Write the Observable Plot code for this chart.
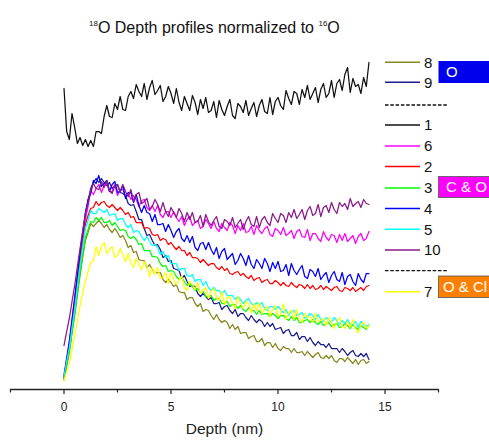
<!DOCTYPE html>
<html>
<head>
<meta charset="utf-8">
<script src="https://cdn.jsdelivr.net/npm/d3@7"></script>
<script src="https://cdn.jsdelivr.net/npm/@observablehq/plot@0.6"></script>
<style>
  html, body { margin: 0; padding: 0; background: #fff; }
  #wrap { position: relative; width: 489px; height: 442px; font-family: "Liberation Sans", Arial, sans-serif; }
  #title { position: absolute; left: 89px; top: 19.5px; font-size: 16px; line-height: 16px; color: #111; white-space: nowrap; }
  #title .s { font-size: 8px; position: relative; top: -7px; }
  #legend { position: absolute; left: 0; top: 0; }
</style>
</head>
<body>
<div id="wrap">
  <div id="chart"></div>
  <div id="title"><span class="s">18</span>O Depth profiles normalized to <span class="s">16</span>O</div>
</div>
<script>
// Depth (nm)
const depth = [0,0.125,0.25,0.375,0.5,0.625,0.75,0.875,1,1.125,
1.25,1.375,1.5,1.625,1.75,1.875,2,2.125,2.25,2.375,
2.5,2.625,2.75,2.875,3,3.125,3.25,3.375,3.5,3.625,
3.75,3.875,4,4.125,4.25,4.375,4.5,4.625,4.75,4.875,
5,5.125,5.25,5.375,5.5,5.625,5.75,5.875,6,6.125,
6.25,6.375,6.5,6.625,6.75,6.875,7,7.125,7.25,7.375,
7.5,7.625,7.75,7.875,8,8.125,8.25,8.375,8.5,8.625,
8.75,8.875,9,9.125,9.25,9.375,9.5,9.625,9.75,9.875,
10,10.125,10.25,10.375,10.5,10.625,10.75,10.875,11,11.125,
11.25,11.375,11.5,11.625,11.75,11.875,12,12.125,12.25,12.375,
12.5,12.625,12.75,12.875,13,13.125,13.25,13.375,13.5,13.625,
13.75,13.875,14,14.125,14.25];

// 18O/16O signal (a.u.), one list per sample
const s1 = [301,258,250,276,262,246,252,244,250,243,
249,243,258,258,256,273,284,273,272,286,
280,293,280,279,293,298,291,305,298,293,
306,290,302,309,295,299,304,288,293,303,
296,286,301,287,279,293,286,279,294,287,
275,290,281,292,277,279,288,272,289,280,
274,283,290,274,271,286,283,277,289,274,
281,287,273,284,290,278,276,292,275,288,
292,284,280,299,291,285,298,296,285,300,
292,304,290,296,302,287,300,306,292,296,
309,292,306,310,299,315,322,297,311,303,
305,296,312,303,327];

const s9 = [11,27,44,66,89,111,134,154,174,189,
201,207,211,207,211,207,204,207,201,204,
205,197,196,194,186,184,185,178,170,170,
161,154,155,149,144,145,140,132,134,128,
129,121,120,119,111,114,108,103,104,103,
96,93,96,93,90,92,86,86,87,80,
83,84,79,76,80,73,76,76,72,69,
74,70,67,70,68,63,67,63,66,60,
61,62,56,59,60,54,54,57,50,53,
53,48,52,47,44,48,45,45,42,46,
41,41,41,37,41,38,34,37,39,34,
33,36,33,36,30];

const s8 = [9,23,37,56,74,94,114,132,149,157,
166,163,166,169,166,162,165,160,157,161,
157,152,154,149,142,144,137,138,130,129,
129,122,125,120,116,117,117,110,107,110,
107,103,105,98,97,97,90,92,92,86,
83,86,78,80,79,74,70,75,70,67,
69,67,61,65,60,63,56,57,57,51,
53,54,48,48,51,44,47,47,42,46,
41,39,43,41,41,37,41,37,37,38,
34,38,35,32,35,37,32,31,34,31,
34,29,27,31,31,28,32,29,26,30,
25,29,30,26,28];

const s3 = [11,25,39,58,77,97,117,135,152,160,
168,167,172,169,172,167,167,169,164,167,
163,159,160,159,153,151,153,150,145,146,
139,139,139,133,133,132,126,123,124,118,
119,118,113,110,112,108,104,106,103,99,
101,97,98,93,93,94,89,91,91,86,
86,88,83,85,85,81,84,80,78,82,
79,79,75,79,75,76,76,73,76,74,
71,74,74,71,69,73,69,72,67,67,
69,70,67,70,67,65,68,64,66,67,
63,65,66,62,63,66,64,61,65,62,
60,64,62,60,64];

const s5 = [13,28,42,62,81,103,124,143,161,169,
179,176,176,181,179,177,180,174,175,176,
169,171,171,165,162,165,157,159,158,153,
149,153,148,144,145,142,135,138,132,134,
126,126,126,119,121,121,114,113,115,108,
110,110,104,108,102,99,102,99,99,95,
99,94,94,94,90,93,90,86,89,91,
86,84,87,84,87,81,79,83,83,80,
83,80,77,80,74,78,79,74,75,77,
71,73,76,74,70,75,70,68,72,70,
67,72,69,65,69,66,70,65,65,68,
62,68,65,63,65];

const s2 = [12,28,44,64,84,106,127,146,165,174,
181,182,188,184,187,188,184,182,185,182,
179,182,179,175,177,172,173,167,167,167,
161,162,161,155,154,155,149,151,150,145,
147,143,140,143,139,139,134,137,132,132,
131,127,130,127,124,126,126,122,120,123,
119,121,116,115,117,118,114,116,113,111,
114,109,111,112,107,109,110,106,106,109,
107,104,107,104,103,107,104,102,105,104,
101,105,101,104,100,101,104,100,103,101,
99,102,103,99,98,102,101,99,102,98,
100,102,99,103,104];

const s4 = [13,30,47,69,91,114,137,157,177,190,
196,209,206,214,203,206,209,198,205,208,
197,198,204,191,197,197,187,195,184,177,
184,177,176,168,175,165,165,166,158,165,
159,152,158,161,151,148,154,147,153,142,
139,146,147,140,147,140,135,142,131,138,
141,130,133,136,125,129,136,131,124,134,
125,121,130,126,121,131,126,118,127,121,
128,118,119,125,114,126,119,115,120,124,
113,111,120,118,113,121,110,114,117,107,
114,118,110,108,117,105,113,115,108,104,
116,110,107,116,116];

const s6 = [15,32,49,71,92,113,134,153,171,183,
199,195,201,205,197,204,206,198,198,205,
194,200,200,193,196,190,194,190,183,189,
190,182,179,184,178,184,175,172,178,178,
172,178,172,168,173,164,170,173,164,167,
169,161,163,170,166,161,168,161,158,166,
162,159,167,164,156,164,159,166,157,158,
163,155,164,159,156,161,163,155,153,161,
159,155,162,154,156,159,151,158,160,153,
152,160,149,156,156,151,148,158,152,149,
155,154,147,155,149,156,148,151,154,146,
153,156,149,151,158];

const s10 = [44,58,71,88,104,123,141,159,176,187,
199,206,201,200,208,202,209,199,196,204,
205,198,205,198,193,200,188,195,197,186,
188,191,180,183,190,185,178,187,178,173,
182,177,172,181,176,168,177,170,177,167,
168,174,163,175,168,164,169,173,163,161,
170,168,164,172,162,166,170,160,168,173,
165,163,173,162,170,173,167,164,176,171,
167,176,174,167,177,172,180,171,175,180,
170,179,183,174,176,185,173,182,184,177,
187,180,176,187,183,186,180,191,183,186,
188,182,190,186,185];

const s7 = [9,18,27,40,54,69,84,97,109,118,
127,129,143,134,143,147,136,140,143,132,
134,141,135,128,136,127,122,131,125,120,
128,123,113,122,115,122,111,112,117,106,
117,110,105,110,113,102,99,108,105,100,
107,96,99,102,91,98,101,92,89,98,
85,92,93,86,81,93,86,81,88,86,
77,86,79,87,76,80,83,73,80,84,
73,75,86,70,77,79,70,80,71,67,
76,72,73,67,76,68,69,71,64,72,
67,61,68,72,63,61,68,62,70,60,
57,65,67,61,64];

const sampleNames  = ["8", "9", "1", "6", "2", "3", "4", "5", "10", "7"];
const sampleColors = ["#86861c", "#1c1c8a", "#111111", "#ff00ff", "#ff0000", "#00ff00", "#0000ff", "#00ffff", "#8a1a8a", "#ffff00"];
const sampleValues = [s8, s9, s1, s6, s2, s3, s4, s5, s10, s7];

// Legend layout order and group labels
const legendOrder = ["8", "9", "--", "1", "6", "2", "3", "4", "5", "10", "--", "7"];
const groupLabels = ["O", "C & O", "O & Cl"];
const groupColors = ["#0000ee", "#ff00ff", "#ff8000"];

const majorTicks = [0, 5, 10, 15];
const minorTicks = [-2.5, 2.5, 7.5, 12.5, 17.5];

const rows = sampleNames.flatMap((name, k) =>
  depth.map((d, i) => ({ depth: d, value: sampleValues[k][i], sample: name }))
).filter(r => r.value != null);

const plot = Plot.plot({
  width: 489,
  height: 442,
  marginLeft: 10,
  marginRight: 51,
  marginTop: 40,
  marginBottom: 53,
  style: { fontFamily: "Liberation Sans, Arial, sans-serif", fontSize: "12px", color: "#222", background: "transparent" },
  x: { domain: [-2.5, 17.5] },
  y: { domain: [0, 349], axis: null },
  color: { domain: sampleNames, range: sampleColors },
  marks: [
    Plot.line(rows, { x: "depth", y: "value", z: "sample", stroke: "sample", strokeWidth: 1.25 }),
    Plot.ruleY([0], { stroke: "#222", strokeWidth: 1.4 }),
    Plot.axisX({ ticks: majorTicks, tickSize: 5, tickPadding: 8, label: null, stroke: "#222", strokeWidth: 1.2 }),
    Plot.axisX({ ticks: minorTicks, tickSize: 3.5, tickFormat: () => "", label: null, stroke: "#222", strokeWidth: 1.2 }),
    Plot.text(["Depth (nm)"], { frameAnchor: "bottom", dy: 44, fontSize: 15.5, fill: "#222" })
  ]
});
document.getElementById("chart").appendChild(plot);

// Legend (overlay)
const rowY = [62.3, 82.3, 105, 125, 146, 166.5, 188, 208.5, 229.3, 250, 270.7, 291.7];
const svg = d3.select("#wrap").append("svg")
  .attr("id", "legend").attr("width", 489).attr("height", 442)
  .style("font-family", "Liberation Sans, Arial, sans-serif");

legendOrder.forEach((key, i) => {
  const y = rowY[i];
  if (key === "--") {
    svg.append("line").attr("x1", 385).attr("x2", 448).attr("y1", y).attr("y2", y)
      .attr("stroke", "#111").attr("stroke-width", 1.3).attr("stroke-dasharray", "3.5,1.8");
  } else {
    const c = sampleColors[sampleNames.indexOf(key)];
    svg.append("line").attr("x1", 385).attr("x2", 420).attr("y1", y).attr("y2", y)
      .attr("stroke", c).attr("stroke-width", 1.6);
    svg.append("text").attr("x", 424).attr("y", y).attr("dy", "0.36em")
      .attr("font-size", 15).attr("fill", "#111").text(key);
  }
});

const boxes = [[61, 83], [176.5, 197.5], [276, 297.5]];
const boxTextX = [446, 446, 443];
groupLabels.forEach((lab, i) => {
  const [y0, y1] = boxes[i];
  svg.append("rect").attr("x", 438.5).attr("y", y0).attr("width", 52).attr("height", y1 - y0)
    .attr("fill", groupColors[i]).attr("stroke", i === 0 ? "none" : "#555").attr("stroke-width", 0.8);
  svg.append("text").attr("x", boxTextX[i]).attr("y", (y0 + y1) / 2).attr("dy", "0.36em")
    .attr("font-size", 15).attr("fill", "#fff").text(lab);
});
</script>
</body>
</html>
